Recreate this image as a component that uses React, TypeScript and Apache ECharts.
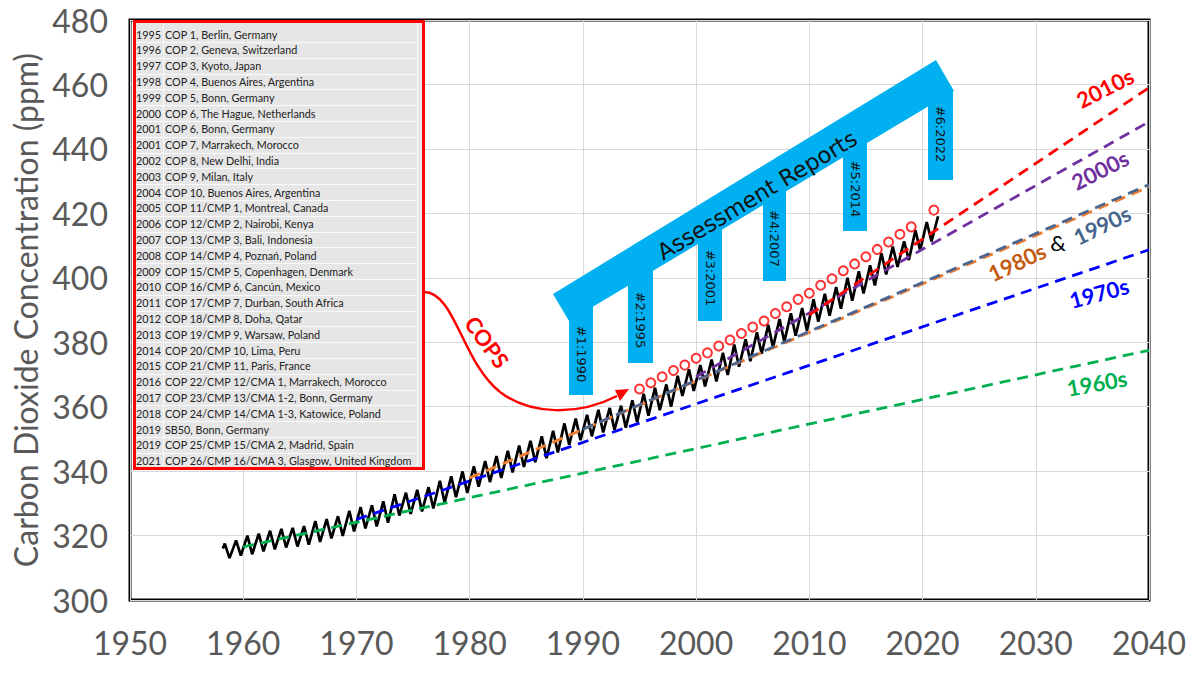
import React, { useEffect, useRef } from "react";
import * as echarts from "echarts";

// ---------------- DATA ----------------
const X_MIN = 1950;
const X_MAX = 2040;
const Y_MIN = 300;
const Y_MAX = 480;

// Mauna Loa style record: first point, then yearly seasonal peaks (May) and troughs (Oct)
const KEELING_FIRST: [number, number] = [1958.2, 316.0];
const KEELING_START_YEAR = 1958;
const KEELING_PEAKS = [
  317.5, 318.5, 320.0, 320.6, 321.5, 322.1, 322.4, 322.9, 324.5, 325.1,
  326.0, 327.7, 328.8, 329.4, 330.6, 332.8, 333.3, 334.2, 335.0, 337.0,
  338.4, 339.9, 341.5, 343.1, 344.7, 346.3, 347.9, 349.4, 350.8, 352.5,
  354.8, 356.3, 357.5, 359.0, 359.6, 360.3, 362.0, 364.0, 365.9, 366.9,
  369.6, 371.6, 372.9, 374.6, 376.7, 379.3, 380.9, 383.1, 385.4, 387.2,
  389.0, 390.6, 393.3, 395.0, 397.1, 400.0, 402.0, 403.9, 407.6, 409.7,
  411.3, 414.7, 417.3, 419.1,
];
const KEELING_TROUGHS = [
  313.0, 313.8, 314.2, 315.1, 315.7, 316.3, 316.6, 317.2, 318.0, 319.1,
  319.9, 321.3, 322.2, 322.8, 324.0, 326.2, 326.7, 327.5, 328.4, 330.2,
  331.9, 333.2, 335.2, 336.6, 337.9, 339.6, 341.3, 342.8, 344.0, 345.8,
  348.2, 349.6, 350.8, 352.0, 352.8, 353.5, 355.2, 357.2, 358.9, 360.0,
  363.3, 364.9, 366.3, 367.8, 369.8, 372.4, 374.1, 376.4, 378.4, 380.1,
  382.0, 383.6, 386.4, 388.2, 390.4, 392.9, 395.1, 397.6, 401.0, 403.4,
  405.5, 408.5, 411.3,
];
const PEAK_OFFSET = 0.37;
const TROUGH_OFFSET = 0.79;

// COP marker circles
const COP_CIRCLE_YEARS = [
  1995, 1996, 1997, 1998, 1999, 2000, 2001, 2002, 2003, 2004, 2005, 2006, 2007,
  2008, 2009, 2010, 2011, 2012, 2013, 2014, 2015, 2016, 2017, 2018, 2019, 2021,
];
const COP_CIRCLE_PPM = [
  365.5, 367.4, 369.3, 371.2, 372.9, 375.0, 376.7, 378.8, 380.7, 382.7, 384.7,
  386.6, 388.9, 391.0, 393.3, 395.2, 397.7, 399.7, 402.2, 404.3, 406.5, 408.8,
  411.1, 413.5, 415.8, 421.0,
];

// decade trend lines [startYear, startPpm], [endYear, endPpm]
const TREND_1960 = [[1960, 316.5], [2040, 377.5]];
const TREND_1970 = [[1970, 325.0], [2040, 408.7]];
const TREND_1980 = [[1980, 337.9], [2040, 428.2]];
const TREND_1990 = [[1990, 353.0], [2040, 428.9]];
const TREND_2000 = [[2000, 369.3], [2040, 448.4]];
const TREND_2010 = [[2010, 388.5], [2040, 459.0]];

const COP_YEARS = [
  "1995", "1996", "1997", "1998", "1999", "2000", "2001", "2001", "2002", "2003",
  "2004", "2005", "2006", "2007", "2008", "2009", "2010", "2011", "2012", "2013",
  "2014", "2015", "2016", "2017", "2018", "2019", "2019", "2021",
];
const COP_NAMES = [
  "COP 1, Berlin, Germany",
  "COP 2, Geneva, Switzerland",
  "COP 3, Kyoto, Japan",
  "COP 4, Buenos Aires, Argentina",
  "COP 5, Bonn, Germany",
  "COP 6, The Hague, Netherlands",
  "COP 6, Bonn, Germany",
  "COP 7, Marrakech, Morocco",
  "COP 8, New Delhi, India",
  "COP 9, Milan, Italy",
  "COP 10, Buenos Aires, Argentina",
  "COP 11/CMP 1, Montreal, Canada",
  "COP 12/CMP 2, Nairobi, Kenya",
  "COP 13/CMP 3, Bali, Indonesia",
  "COP 14/CMP 4, Poznań, Poland",
  "COP 15/CMP 5, Copenhagen, Denmark",
  "COP 16/CMP 6, Cancún, Mexico",
  "COP 17/CMP 7, Durban, South Africa",
  "COP 18/CMP 8, Doha, Qatar",
  "COP 19/CMP 9, Warsaw, Poland",
  "COP 20/CMP 10, Lima, Peru",
  "COP 21/CMP 11, Paris, France",
  "COP 22/CMP 12/CMA 1, Marrakech, Morocco",
  "COP 23/CMP 13/CMA 1-2, Bonn, Germany",
  "COP 24/CMP 14/CMA 1-3, Katowice, Poland",
  "SB50, Bonn, Germany",
  "COP 25/CMP 15/CMA 2, Madrid, Spain",
  "COP 26/CMP 16/CMA 3, Glasgow, United Kingdom",
];

const AR_LABELS = ["#1:1990", "#2:1995", "#3:2001", "#4:2007", "#5:2014", "#6:2022"];

// ---------------- LAYOUT (pixels) ----------------
const GRID = { left: 130, right: 51, top: 20, bottom: 73 };
const AR_BARS = [
  { x: 569, w: 24, bottom: 395 },
  { x: 628, w: 25, bottom: 363 },
  { x: 698, w: 24, bottom: 321 },
  { x: 763, w: 23, bottom: 281 },
  { x: 843, w: 24, bottom: 231 },
  { x: 928, w: 25, bottom: 180 },
];
const CYAN = "#00B0F0";
const FONT = "Lato, 'Open Sans', sans-serif";
const DV = "'DejaVu Sans', Verdana, sans-serif";

function bandLowerY(x: number) {
  return 310 - 0.606 * (x - 592.7);
}

function buildKeeling() {
  const pts: [number, number][] = [KEELING_FIRST];
  for (let i = 0; i < KEELING_PEAKS.length; i++) {
    const yr = KEELING_START_YEAR + i;
    pts.push([yr + PEAK_OFFSET, KEELING_PEAKS[i]]);
    if (i < KEELING_TROUGHS.length) pts.push([yr + TROUGH_OFFSET, KEELING_TROUGHS[i]]);
  }
  return pts;
}

function buildGraphics() {
  const els: any[] = [];
  // ---- COP table ----
  const tx = 133, ty = 21, tw = 290, th = 448;
  els.push({ type: "rect", z: 100, shape: { x: tx, y: ty, width: tw, height: th }, style: { fill: "#e6e6e6" } });
  const rowH = 15.8;
  const firstCenter = 34;
  for (let k = 1; k < COP_YEARS.length; k++) {
    const yy = Math.round(firstCenter - rowH / 2 + k * rowH) + 0.5;
    els.push({ type: "line", z: 101, shape: { x1: tx, y1: yy, x2: tx + tw - 5, y2: yy }, style: { stroke: "#fafafa", lineWidth: 1 } });
  }
  els.push({ type: "line", z: 101, shape: { x1: 163.5, y1: ty, x2: 163.5, y2: ty + th }, style: { stroke: "#fafafa", lineWidth: 1 } });
  els.push({ type: "line", z: 101, shape: { x1: tx + tw - 5.5, y1: ty, x2: tx + tw - 5.5, y2: ty + th }, style: { stroke: "#fafafa", lineWidth: 1 } });
  for (let k = 0; k < COP_YEARS.length; k++) {
    const cy = firstCenter + k * rowH;
    els.push({ type: "text", z: 102, x: 136, y: cy, style: { text: COP_YEARS[k], fill: "#222", fontSize: 10.8, fontFamily: FONT, align: "left", verticalAlign: "middle" } });
    els.push({ type: "text", z: 102, x: 165, y: cy, style: { text: COP_NAMES[k], fill: "#222", fontSize: 10.8, fontFamily: FONT, align: "left", verticalAlign: "middle" } });
  }
  els.push({ type: "rect", z: 103, shape: { x: tx + 1.5, y: ty + 0.5, width: tw - 1, height: th - 1 }, style: { fill: "transparent", stroke: "#FF0000", lineWidth: 3 } });

  // ---- COPS arrow ----
  els.push({ type: "bezierCurve", z: 50, shape: { x1: 424, y1: 292, cpx1: 455, cpy1: 292, cpx2: 462, cpy2: 362, x2: 500, y2: 392 }, style: { stroke: "#FF0000", lineWidth: 2.5, fill: null } });
  els.push({ type: "bezierCurve", z: 50, shape: { x1: 500, y1: 392, cpx1: 530, cpy1: 415, cpx2: 578, cpy2: 416, x2: 617, y2: 396 }, style: { stroke: "#FF0000", lineWidth: 2.5, fill: null } });
  els.push({ type: "polygon", z: 50, shape: { points: [[629, 389], [615, 390], [620, 401]] }, style: { fill: "#FF0000" } });
  els.push({ type: "text", z: 50, x: 487, y: 342, rotation: (-54 * Math.PI) / 180, style: { text: "COPS", fill: "#FF0000", fontSize: 22, fontWeight: "bold", fontFamily: FONT, align: "center", verticalAlign: "middle" } });

  // ---- Assessment reports arrow ----
  els.push({ type: "polygon", z: 40, shape: { points: [[553, 294], [936, 60], [954, 91], [569, 321]] }, style: { fill: CYAN } });
  AR_BARS.forEach((b, i) => {
    const edge = bandLowerY(b.x + b.w / 2);
    const top = b.x > 900 ? 90 : edge - 12;
    els.push({ type: "rect", z: 40, shape: { x: b.x, y: top, width: b.w, height: b.bottom - top }, style: { fill: CYAN } });
    const ly = ((b.x > 900 ? 92 : edge) + b.bottom) / 2 - 2;
    els.push({ type: "text", z: 41, x: b.x + b.w / 2, y: ly, rotation: -Math.PI / 2, style: { text: AR_LABELS[i], fill: "#111", fontSize: 13, fontFamily: DV, align: "center", verticalAlign: "middle" } });
  });
  els.push({ type: "text", z: 41, x: 757, y: 195, rotation: (31 * Math.PI) / 180, style: { text: "Assessment Reports", fill: "#111", fontSize: 22.5, fontFamily: DV, align: "center", verticalAlign: "middle" } });

  // ---- decade labels ----
  const dl = (text: string, x: number, y: number, deg: number, color: string, bold = true) =>
    els.push({ type: "text", z: 60, x, y, rotation: (deg * Math.PI) / 180, style: { text, fill: color, fontSize: 22, fontWeight: bold ? "bold" : "normal", fontFamily: FONT, align: "center", verticalAlign: "middle" } });
  dl("2010s", 1105, 88, 27, "#FF0000");
  dl("2000s", 1100, 170, 27, "#7030A0");
  dl("1980s", 1017, 262, 25, "#C55A11");
  dl("&", 1058, 242, 0, "#000000", false);
  dl("1990s", 1102, 225, 26, "#44648C");
  dl("1970s", 1099, 293, 15, "#0000FF");
  dl("1960s", 1097, 383, 10, "#00B050");
  return els;
}

function trendSeries(data: number[][], color: string) {
  return {
    type: "line",
    data,
    showSymbol: false,
    z: 3,
    silent: true,
    lineStyle: { color, width: 2.8, type: [11, 7] },
  };
}

export default function App() {
  const ref = useRef<HTMLDivElement>(null);
  useEffect(() => {
    document.body.style.margin = "0";
    if (!ref.current) return;
    const chart = echarts.init(ref.current, undefined, { renderer: "svg" });
    chart.setOption({
      animation: false,
      backgroundColor: "#ffffff",
      grid: { ...GRID, outerBoundsMode: "none", containLabel: false, show: true, borderColor: "#000", borderWidth: 3, backgroundColor: "transparent" },
      xAxis: {
        type: "value",
        min: X_MIN,
        max: X_MAX,
        interval: 10,
        axisLine: { show: false },
        axisTick: { show: false },
        splitLine: { show: true, lineStyle: { color: "#d9d9d9", width: 1 } },
        axisLabel: { color: "#595959", fontSize: 32, fontFamily: FONT, margin: 26, formatter: (v: number) => String(v) },
      },
      yAxis: {
        type: "value",
        min: Y_MIN,
        max: Y_MAX,
        interval: 20,
        name: "Carbon Dioxide Concentration (ppm)",
        nameLocation: "middle",
        nameGap: 86,
        nameTextStyle: { color: "#595959", fontSize: 32, fontFamily: FONT },
        axisLine: { show: false },
        axisTick: { show: false },
        splitLine: { show: true, lineStyle: { color: "#d9d9d9", width: 1 } },
        axisLabel: { color: "#595959", fontSize: 32, fontFamily: FONT, margin: 22, formatter: (v: number) => String(v) },
      },
      series: [
        {
          type: "line",
          data: buildKeeling(),
          showSymbol: false,
          z: 2,
          lineStyle: { color: "#000", width: 2.7 },
        },
        trendSeries(TREND_1960, "#00B050"),
        trendSeries(TREND_1970, "#0000FF"),
        trendSeries(TREND_1980, "#ED7D31"),
        trendSeries(TREND_1990, "#4A6590"),
        trendSeries(TREND_2000, "#7030A0"),
        trendSeries(TREND_2010, "#FF0000"),
        {
          type: "scatter",
          data: COP_CIRCLE_YEARS.map((y, i) => [y, COP_CIRCLE_PPM[i]]),
          symbol: "emptyCircle",
          symbolSize: 9,
          z: 4,
          itemStyle: { color: "#FF0000", borderColor: "#FF3030", borderWidth: 1 },
        },
      ],
      graphic: buildGraphics(),
    });
    return () => chart.dispose();
  }, []);
  return <div ref={ref} style={{ width: 1200, height: 673 }} />;
}
